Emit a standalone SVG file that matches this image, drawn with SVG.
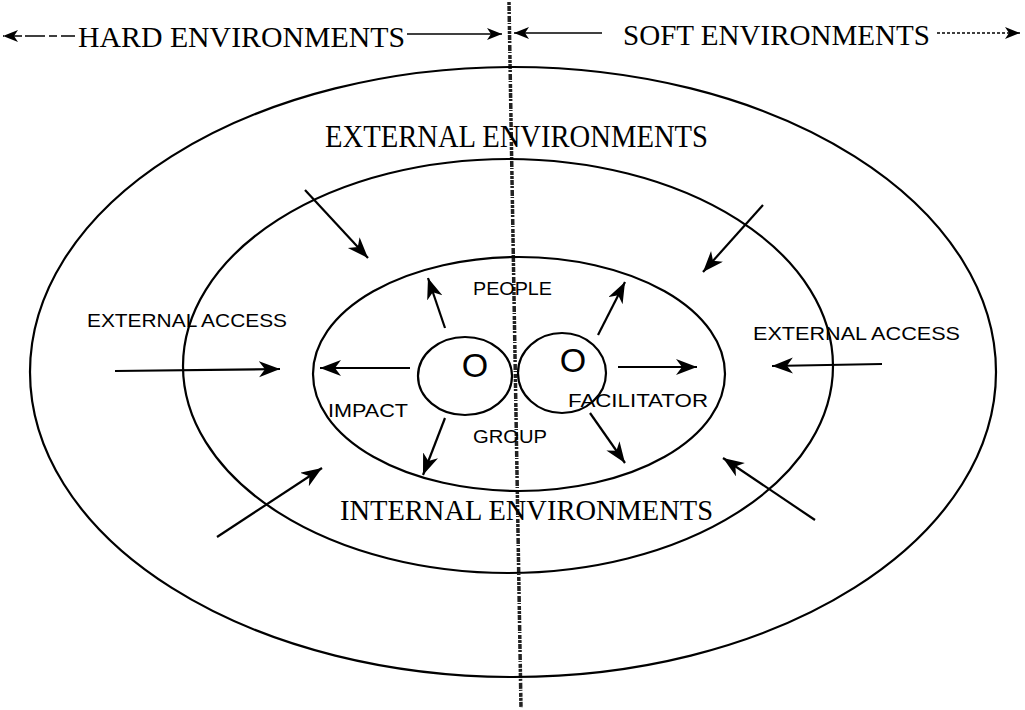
<svg xmlns="http://www.w3.org/2000/svg" width="1025" height="710" viewBox="0 0 1025 710">
<style>
.bg{fill:#fff}
.ring{fill:none;stroke:#000;stroke-width:2.2}
.arr{fill:none;stroke:#000;stroke-width:2.2;marker-end:url(#ah)}
.harr{fill:none;stroke:#000;stroke-width:1.4;marker-end:url(#hs)}
.serif{font-family:"Liberation Serif","Times New Roman",serif;fill:#000}
.sans{font-family:"Liberation Sans",Arial,sans-serif;fill:#000}
</style>
<defs>
<marker id="ah" markerUnits="userSpaceOnUse" markerWidth="24" markerHeight="18" refX="21" refY="8" orient="auto">
<path d="M0,0 L21,8 L0,16 L6,8 Z" fill="#000"/>
</marker>
<marker id="hs" markerUnits="userSpaceOnUse" markerWidth="18" markerHeight="14" refX="15" refY="6" orient="auto">
<path d="M0,0 L15,6 L0,12 L4,6 Z" fill="#000"/>
</marker>
</defs>
<rect class="bg" x="0" y="0" width="1025" height="710"/>

<g id="divider">
<path d="M509,2 L521,708" fill="none" stroke="#222" stroke-width="3.5" stroke-dasharray="3 1 5 1 2 2 6 1 1 2 4 1"/>
</g>

<g id="header">
<text class="serif" x="78" y="47" font-size="30" textLength="327" lengthAdjust="spacingAndGlyphs">HARD ENVIRONMENTS</text>
<text class="serif" x="623" y="45" font-size="30" textLength="307" lengthAdjust="spacingAndGlyphs">SOFT ENVIRONMENTS</text>
</g>

<g id="outer-ring">
<ellipse class="ring" cx="513" cy="372" rx="483" ry="305"/>
<text class="serif" x="325" y="147" font-size="31" textLength="383" lengthAdjust="spacingAndGlyphs">EXTERNAL ENVIRONMENTS</text>
</g>

<g id="middle-ring">
<ellipse class="ring" cx="508" cy="366" rx="325" ry="207"/>
<text class="serif" x="340" y="520" font-size="29" textLength="373" lengthAdjust="spacingAndGlyphs">INTERNAL ENVIRONMENTS</text>
</g>

<g id="inner-ring">
<ellipse class="ring" cx="519" cy="374" rx="206" ry="117"/>
<text class="sans" x="473" y="295" font-size="18" textLength="79" lengthAdjust="spacingAndGlyphs">PEOPLE</text>
<text class="sans" x="328" y="417" font-size="18" textLength="80" lengthAdjust="spacingAndGlyphs">IMPACT</text>
<text class="sans" x="473" y="443" font-size="18" textLength="74" lengthAdjust="spacingAndGlyphs">GROUP</text>
<text class="sans" x="568" y="407" font-size="18" textLength="140" lengthAdjust="spacingAndGlyphs">FACILITATOR</text>
</g>

<g id="group-left">
<ellipse class="ring" cx="465" cy="376" rx="47" ry="39"/>
<text class="sans" x="475" y="377" font-size="34" text-anchor="middle">O</text>
</g>
<g id="group-right">
<ellipse class="ring" cx="562" cy="373" rx="44" ry="40"/>
<text class="sans" x="573" y="372" font-size="34" text-anchor="middle">O</text>
</g>

<g id="access-left">
<text class="sans" x="87" y="327" font-size="18" textLength="200" lengthAdjust="spacingAndGlyphs">EXTERNAL ACCESS</text>
</g>
<g id="access-right">
<text class="sans" x="753" y="340" font-size="18" textLength="207" lengthAdjust="spacingAndGlyphs">EXTERNAL ACCESS</text>
</g>

<g id="connectors">
<path class="harr" d="M75,36 L3,36" stroke-dasharray="14 4 8 4 20 3"/>
<path class="harr" d="M407,34 L502,34"/>
<path class="harr" d="M602,33 L514,33"/>
<path class="harr" d="M937,33 L1020,33" stroke-dasharray="3 2"/>

<path class="arr" d="M305,190 L368,258"/>
<path class="arr" d="M763,205 L703,272"/>
<path class="arr" d="M217,537 L322,468"/>
<path class="arr" d="M815,520 L723,458"/>
<path class="arr" d="M115,371 L280,369" stroke-width="1.5"/>
<path class="arr" d="M882,364 L772,366" stroke-width="1.5"/>

<path class="arr" d="M445,328 L428,278"/>
<path class="arr" d="M598,335 L625,282"/>
<path class="arr" d="M410,368 L320,368" stroke-width="1.6"/>
<path class="arr" d="M618,367 L697,367" stroke-width="1.6"/>
<path class="arr" d="M445,418 L423,475"/>
<path class="arr" d="M590,413 L625,463"/>
</g>
</svg>
